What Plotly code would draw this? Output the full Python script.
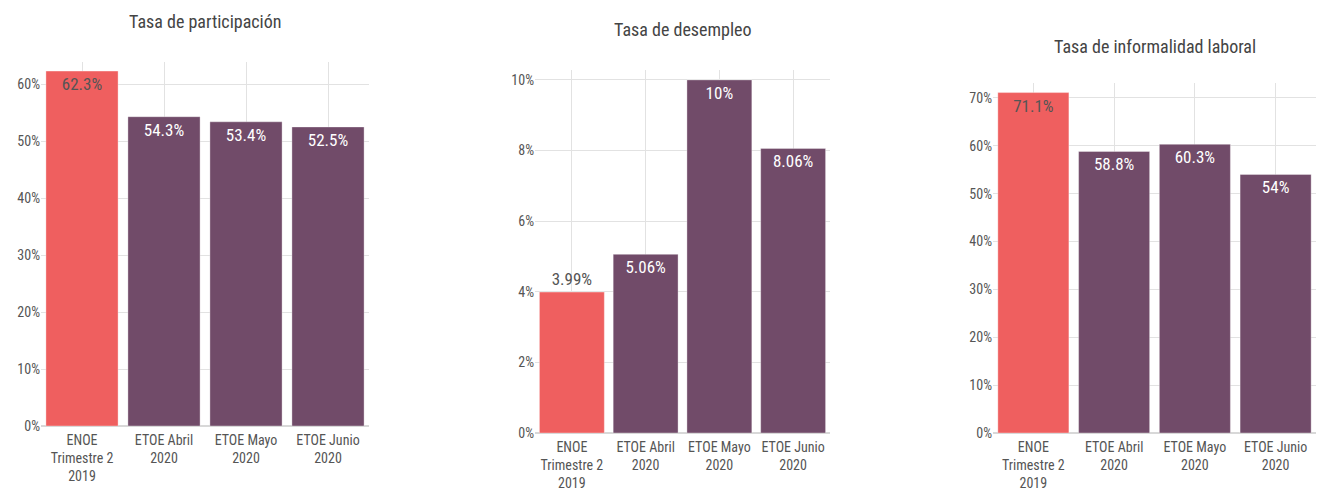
import plotly.graph_objects as go

categories = ["ENOE<br>Trimestre 2<br>2019", "ETOE Abril<br>2020", "ETOE Mayo<br>2020", "ETOE Junio<br>2020"]

participacion = [62.3, 54.3, 53.4, 52.5]
participacion_txt = ["62.3%", "54.3%", "53.4%", "52.5%"]

desempleo = [3.99, 5.06, 10.0, 8.06]
desempleo_txt = ["3.99%", "5.06%", "10%", "8.06%"]

informalidad = [71.1, 58.8, 60.3, 54.0]
informalidad_txt = ["71.1%", "58.8%", "60.3%", "54%"]

titles = ["Tasa de participación", "Tasa de desempleo", "Tasa de informalidad laboral"]

RED = "#ef5f5f"
PURPLE = "#714b69"
FONT = "Roboto Condensed, Roboto, sans-serif"
W, H = 1317, 502

colors = [RED, PURPLE, PURPLE, PURPLE]
label_colors = ["#555555", "white", "white", "white"]

# plot boxes in pixels: (left, right, top, bottom), y max, dtick, title y
panels = [
    (participacion, participacion_txt, ["inside"] * 4, (41, 369, 62, 426), 63.9, 10, 22),
    (desempleo, desempleo_txt, ["outside", "inside", "inside", "inside"], (535, 830, 70, 433), 10.28, 2, 30),
    (informalidad, informalidad_txt, ["inside"] * 4, (993, 1316, 83, 433), 73.1, 10, 46),
]

fig = go.Figure()
layout = {}
for i, (vals, txt, pos, box, ymax, dtick, ty) in enumerate(panels, start=1):
    xa = "x" if i == 1 else f"x{i}"
    ya = "y" if i == 1 else f"y{i}"
    fig.add_trace(
        go.Bar(
            x=categories,
            y=vals,
            text=txt,
            textposition=pos,
            insidetextanchor="end",
            textfont=dict(color=label_colors, size=17, family=FONT),
            marker=dict(color=colors, line=dict(color="rgba(255,255,255,0.35)", width=1)),
            cliponaxis=False,
            xaxis=xa,
            yaxis=ya,
            showlegend=False,
        )
    )
    l, r, t, b = box
    layout[f"xaxis{'' if i == 1 else i}"] = dict(
        domain=[l / W, r / W],
        anchor=ya,
        automargin=False,
        showgrid=True,
        gridcolor="#e2e2e2",
        tickfont=dict(size=14, color="#555555", family=FONT),
        ticklabelstandoff=4,
        ticks="",
        showline=False,
    )
    layout[f"yaxis{'' if i == 1 else i}"] = dict(
        domain=[1 - b / H, 1 - t / H],
        anchor=xa,
        automargin=False,
        range=[0, ymax],
        dtick=dtick,
        ticksuffix="%",
        showgrid=True,
        gridcolor="#e2e2e2",
        zeroline=True,
        zerolinecolor="#d8d8d8",
        zerolinewidth=2,
        tickfont=dict(size=14, color="#555555", family=FONT),
    )
    fig.add_annotation(
        text=titles[i - 1],
        x=(l + r) / 2 / W,
        y=1 - ty / H,
        xref="paper",
        yref="paper",
        xanchor="center",
        yanchor="middle",
        showarrow=False,
        font=dict(size=18, color="#444444", family=FONT),
    )

fig.update_layout(
    **layout,
    width=W,
    height=H,
    margin=dict(l=0, r=0, t=0, b=0),
    bargap=0.12,
    plot_bgcolor="white",
    paper_bgcolor="white",
    font=dict(family=FONT),
)

fig.write_html("out.html", config={"displayModeBar": False}, post_script="document.body.style.margin='0';")
